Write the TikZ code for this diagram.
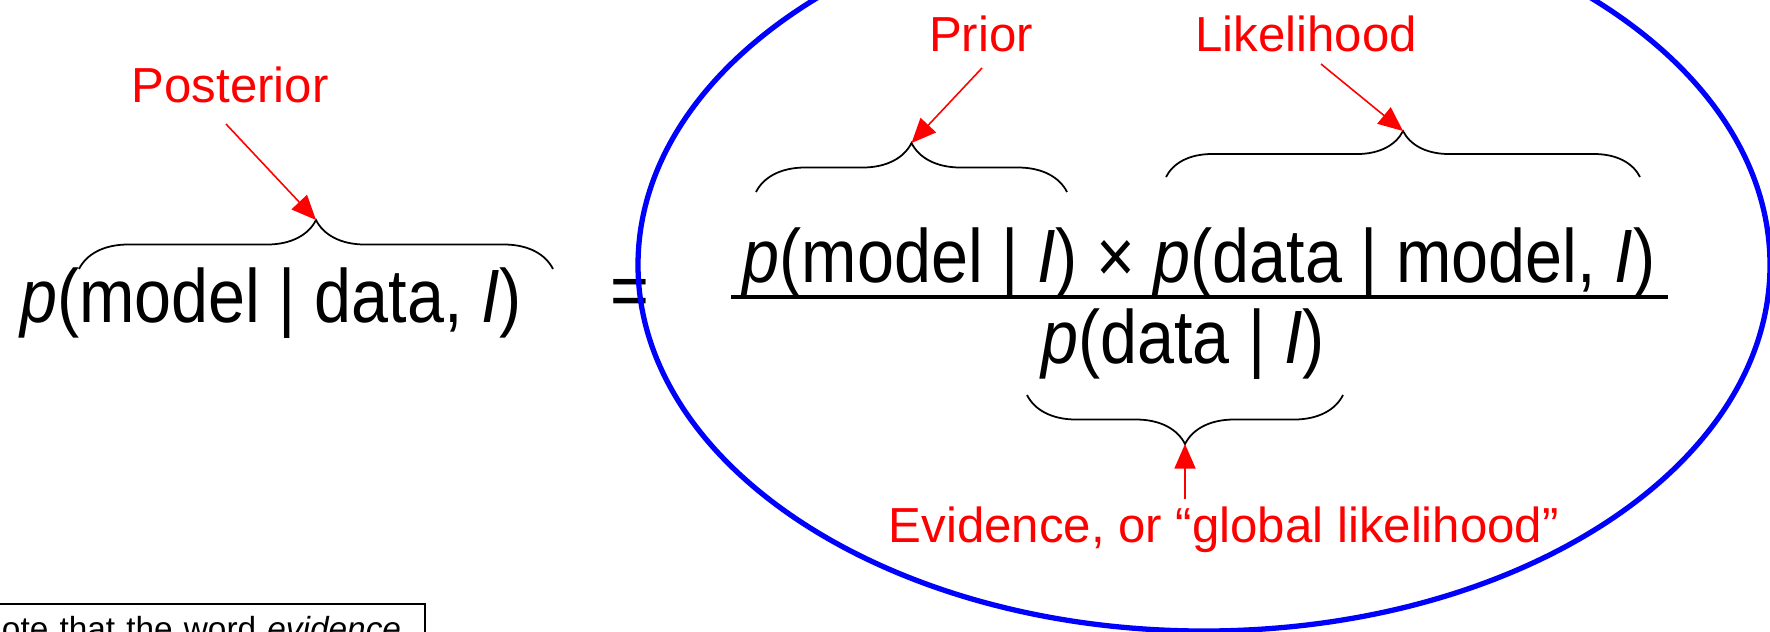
\documentclass[tikz,border=0pt]{standalone}
\usepackage{fontspec}
\setmainfont{Liberation Sans}
\newfontfamily\eqfont[FakeStretch=0.88]{Liberation Sans}
\usepackage{tikz}
\usetikzlibrary{calc,positioning,arrows.meta,decorations.pathreplacing}
\definecolor{labelred}{RGB}{255,0,0}
\definecolor{ringblue}{RGB}{0,0,255}

\begin{document}
\begin{tikzpicture}[
  eqn/.style={font=\eqfont\fontsize{21.5}{26}\selectfont, inner sep=0pt},
  lab/.style={font=\fontsize{14}{17}\selectfont, text=labelred, inner sep=2pt},
  pointer/.style={-{Triangle[length=7pt,width=6pt]}, labelred, line width=0.45pt},
  curly/.style={decorate, decoration={brace, amplitude=#1}, line width=0.5pt},
  curly/.default=0.49cm,
]
  \useasboundingbox (0,0) rectangle (17.7,-6.31);

  % Left-hand side
  \node[eqn, anchor=base] (lhs) at (2.71,-3.22) {\textit{p}(model | data, \textit{I})};
  \node[eqn] (equals) at (6.30,-2.98) {=};

  % Right-hand side: the fraction
  \node[eqn, anchor=base] (num) at (11.99,-2.82)
    {\textit{p}(model | \textit{I}) × \textit{p}(data | model, \textit{I})};
  \draw[line width=0.9pt] (7.31,-2.97) -- (16.68,-2.97);
  \node[eqn, anchor=base] (den) at (11.83,-3.63) {\textit{p}(data | \textit{I})};

  % Braces (end points, then tip)
  \coordinate (postA) at (0.79,-2.69);  \coordinate (postB) at (5.53,-2.69);
  \coordinate (priorA) at (7.56,-1.92); \coordinate (priorB) at (10.67,-1.92);
  \coordinate (likeA) at (11.66,-1.77); \coordinate (likeB) at (16.40,-1.77);
  \coordinate (evA) at (13.43,-3.95);   \coordinate (evB) at (10.27,-3.95);
  \draw[curly] (postA) -- (postB);
  \draw[curly] (priorA) -- (priorB);
  \draw[curly=0.46cm] (likeA) -- (likeB);
  \draw[curly] (evA) -- (evB);
  \coordinate (posttip) at ($(postA)!0.5!(postB)+(0,0.49)$);
  \coordinate (priortip) at ($(priorA)!0.5!(priorB)+(0,0.49)$);
  \coordinate (liketip) at ($(likeA)!0.5!(likeB)+(0,0.46)$);
  \coordinate (evtip) at ($(evA)!0.5!(evB)+(0,-0.49)$);

  % Red labels
  \node[lab, anchor=base] (lposterior) at (2.30,-1.02) {Posterior};
  \node[lab, anchor=base] (lprior) at (9.81,-0.51) {Prior};
  \node[lab, anchor=base] (llikelihood) at (13.06,-0.51) {Likelihood};
  \node[lab, anchor=base west] (levidence) at (8.81,-5.42) {Evidence, or “global likelihood”};

  % Pointers
  \coordinate (posttail) at (2.26,-1.24);
  \coordinate (priortail) at (9.82,-0.68);
  \coordinate (liketail) at (13.21,-0.64);
  \draw[pointer] (posttail) -- (posttip);
  \draw[pointer] (priortail) -- (priortip);
  \draw[pointer] (liketail) -- (liketip);
  \draw[pointer] (levidence.north -| evtip) -- (evtip);

  % Ring round the right-hand side
  \draw[ringblue, line width=1.5pt] (12.04,-2.65) ellipse (5.66cm and 3.66cm);

  % Note box (cut off at the bottom)
  \node[draw, anchor=north west, text width=4.35cm, inner sep=0.12cm, align=left,
        font=\fontsize{9.5}{12}\selectfont, line width=0.5pt] (note) at (-0.35,-6.03)
    {Note that the word \textit{evidence}};
\end{tikzpicture}
\end{document}
